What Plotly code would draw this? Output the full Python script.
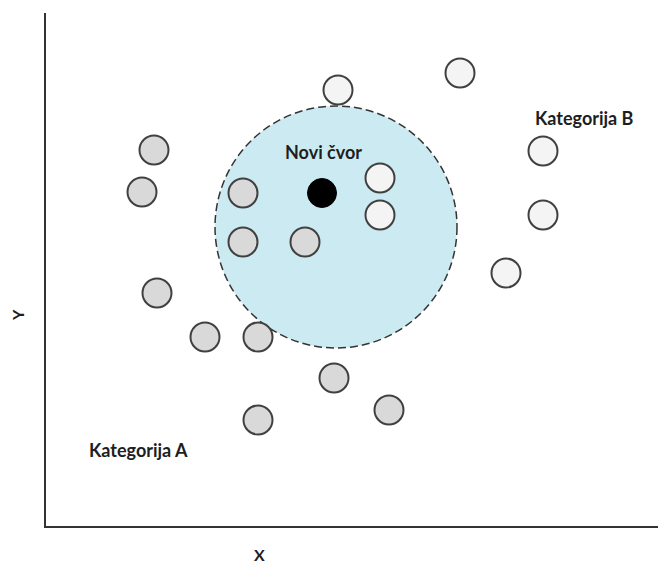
import plotly.graph_objects as go

# category A (grey), category B (white) and the new node, x/y measured from the axes corner
a_x = [108, 96, 197, 197, 259, 111, 159, 212, 288, 343, 212]
a_y = [376, 334, 333, 284, 284, 233, 189, 189, 148, 116, 106]
b_x = [292, 414, 497, 334, 334, 497, 460]
b_y = [436, 453, 375, 348, 311, 311, 253]
new_x = [276]
new_y = [333]

# neighbourhood circle around the new node
circle_cx, circle_cy, circle_r = 290, 299, 121

fig = go.Figure()

fig.add_shape(
    type="circle", xref="x", yref="y", layer="below",
    x0=circle_cx - circle_r, x1=circle_cx + circle_r,
    y0=circle_cy - circle_r, y1=circle_cy + circle_r,
    fillcolor="#cceaf2",
    line=dict(color="#333333", width=1.5, dash="8px,4px"),
)

edge = dict(color="#404040", width=2)
fig.add_trace(go.Scatter(x=a_x, y=a_y, mode="markers", name="Kategorija A",
                         marker=dict(size=29, color="#d9d9d9", line=edge)))
fig.add_trace(go.Scatter(x=b_x, y=b_y, mode="markers", name="Kategorija B",
                         marker=dict(size=29, color="#f4f4f4", line=edge)))
fig.add_trace(go.Scatter(x=new_x, y=new_y, mode="markers", name="Novi čvor",
                         marker=dict(size=29, color="#000000", line=dict(color="#000000", width=1))))

lbl = dict(family="Lato, Open Sans, sans-serif", size=18, color="#1e1e1e")
axlbl = dict(lbl, size=16)
fig.add_annotation(x=277, y=374, text="<b>Novi čvor</b>", showarrow=False, font=lbl)
fig.add_annotation(x=538, y=408, text="<b>Kategorija B</b>", showarrow=False, font=lbl)
fig.add_annotation(x=92, y=76, text="<b>Kategorija A</b>", showarrow=False, font=lbl)
fig.add_annotation(xref="paper", yref="paper", x=-29 / 620, y=211 / 513, text="<b>Y</b>",
                   xanchor="center", yanchor="middle",
                   showarrow=False, textangle=-90, font=axlbl)
fig.add_annotation(xref="paper", yref="paper", x=213 / 620, y=-28 / 513, text="<b>X</b>",
                   xanchor="center", yanchor="middle", showarrow=False, font=axlbl)

fig.update_xaxes(range=[0, 620], showgrid=False, zeroline=False, showticklabels=False,
                 showline=True, linecolor="#333333", linewidth=2, ticks="")
fig.update_yaxes(range=[0, 513], showgrid=False, zeroline=False, showticklabels=False,
                 showline=True, linecolor="#333333", linewidth=2, ticks="")

# the page adds an 8px body margin, so the figure is shrunk and shifted by it
fig.update_layout(
    width=658, height=557,
    margin=dict(l=38, r=0, t=5, b=39),
    plot_bgcolor="white", paper_bgcolor="white",
    showlegend=False,
)

fig.write_html("out.html")
